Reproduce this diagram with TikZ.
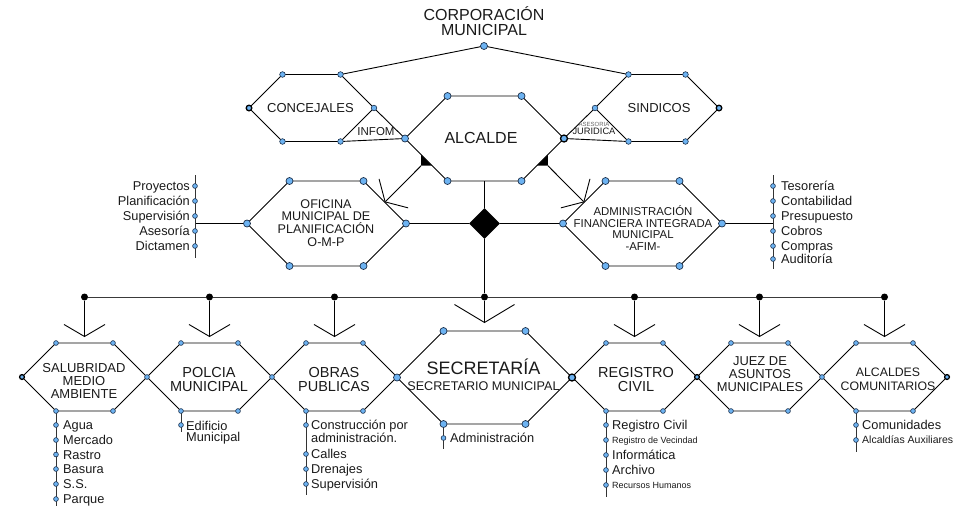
\documentclass[tikz,border=0pt]{standalone}
\usepackage{fontspec}
\setmainfont{Liberation Sans}
\usetikzlibrary{arrows.meta,calc,shapes.geometric}
\definecolor{dotblue}{HTML}{6DB3F2}
\definecolor{dotedge}{HTML}{1B2F4A}
\definecolor{txt}{HTML}{1A1A1A}
\definecolor{busgray}{HTML}{3A3A3A}
\newcommand\hexa[5]{%
  \path (#2,#3) coordinate (#1)
    ++(-#4,0) coordinate (#1-l)
    ++(#5,-#5) coordinate (#1-tl)
    ++({2*(#4-#5)},0) coordinate (#1-tr)
    ++(#5,#5) coordinate (#1-r)
    ++(-#5,#5) coordinate (#1-br)
    ++({-2*(#4-#5)},0) coordinate (#1-bl);
  \draw[hexline] (#1-l) -- (#1-tl) -- (#1-tr) -- (#1-r) -- (#1-br) -- (#1-bl) -- cycle;}
\newcommand\hexdots[3]{\foreach \v in {#3}{\node[#2] (#1-\v-d) at (#1-\v) {};}}
\tikzset{
  hexline/.style={draw=black, line width=0.9pt},
  listline/.style={draw=black!80, line width=0.9pt},
  dotS/.style={circle, fill=dotblue, draw=dotedge, line width=0.6pt, inner sep=0pt, minimum size=4.8pt},
  dotM/.style={dotS, minimum size=5.6pt},
  dotL/.style={dotS, minimum size=7pt, line width=0.7pt},
  dotK/.style={draw=black, line width=1.3pt},
  busdot/.style={circle, fill=black, inner sep=0pt, minimum size=7pt},
  barb/.style={-{Straight Barb[length=12pt,width=41pt,line width=0.9pt]}},
  bigbarb/.style={-{Straight Barb[length=18pt,width=60pt,line width=0.9pt]}},
  lbl/.style={inner sep=0pt, align=center, text=txt},
  item/.style={inner sep=0pt, text=txt, font=\fontsize{12.8}{12}\selectfont, text height=9.2pt, text depth=0pt},
  itemsm/.style={inner sep=0pt, text=txt, font=\fontsize{9}{9}\selectfont, text height=6.5pt, text depth=0pt},
}
\begin{document}
\begin{tikzpicture}[x=1pt,y=-1pt]
\useasboundingbox (0,0) rectangle (962,507);
% ---------- top hexagons
\hexa{conc}{311.5}{108}{62.5}{33.5}
\hexa{sind}{657}{108}{62}{33.5}
\hexa{alde}{484.5}{138.5}{79.5}{42.5}
\hexa{omp}{326.5}{223.5}{79.5}{42.5}
\hexa{afim}{642.5}{223.5}{79.5}{42.5}
\coordinate (corpd) at (484,46);
\draw[hexline] (corpd) -- (conc-tr);
\draw[hexline] (corpd) -- (sind-tl);
\draw[hexline] (conc-r) -- (alde-l);
\draw[hexline] (conc-br) -- (alde-l);
\draw[hexline] (sind-l) -- (alde-r);
\draw[hexline] (sind-bl) -- (alde-r);
% texts top
\node[lbl, font=\fontsize{16}{15}\selectfont] (corp) at (484,21) {CORPORACIÓN\\MUNICIPAL};
\node[lbl, font=\fontsize{13}{13}\selectfont] (conct) at (310.5,108) {CONCEJALES};
\node[lbl, font=\fontsize{13}{13}\selectfont] (sindt) at (659,108) {SINDICOS};
\node[lbl, font=\fontsize{16}{16}\selectfont] (aldet) at (481,137.5) {ALCALDE};
\node[lbl, font=\fontsize{11.5}{12}\selectfont] (infom) at (376,132) {INFOM};
\node[lbl, font=\fontsize{9.3}{8.5}\selectfont] (jur) at (594,128.5) {{\fontsize{6}{8.5}\selectfont\color{black!60}ASESORIA}\\JURIDICA};
\node[lbl, font=\fontsize{12.6}{12.7}\selectfont] (ompt) at (326,223) {OFICINA\\MUNICIPAL DE\\PLANIFICACIÓN\\O-M-P};
\node[lbl, font=\fontsize{11.4}{11.4}\selectfont] (afimt) at (643,228) {ADMINISTRACIÓN\\FINANCIERA INTEGRADA\\MUNICIPAL\\-AFIM-};
% diamond
\node[diamond, fill=black, inner sep=0pt, minimum size=31pt] (dia) at (484.5,223.5) {};
\coordinate (aldebm) at ($(alde-bl)!0.5!(alde-br)$);
\draw[hexline] (aldebm) -- (dia.north);
\draw[hexline] (omp-r) -- (dia.west);
\draw[hexline] (dia.east) -- (afim-l);
% composition arrows
\coordinate (la1) at ($(alde-l)!0.38!(alde-bl)$);
\coordinate (la2) at ($(alde-l)!0.64!(alde-bl)$);
\coordinate (la3) at (la1 |- la2);
\fill (la1) -- (la2) -- (la3) -- cycle;
\coordinate (ompin) at ($(omp-tr)!0.5!(omp-r)$);
\draw[hexline, barb] (la3) -- (ompin);
\coordinate (ra1) at ($(alde-r)!0.38!(alde-br)$);
\coordinate (ra2) at ($(alde-r)!0.64!(alde-br)$);
\coordinate (ra3) at (ra1 |- ra2);
\fill (ra1) -- (ra2) -- (ra3) -- cycle;
\coordinate (afimin) at ($(afim-tl)!0.5!(afim-l)$);
\draw[hexline, barb] (ra3) -- (afimin);
% left list
\coordinate (lltop) at (195,175); \coordinate (llbot) at (195,258); \coordinate (llmid) at (195,223.5);
\draw[hexline] (omp-l) -- (llmid);
\draw[listline] (lltop) -- (llbot);
\foreach \t/\y [count=\i] in {Proyectos/186,Planificación/201,Supervisión/216,Asesoría/231,Dictamen/246}{
  \node[dotS] (ld\i) at (195,\y) {};
  \node[item, anchor=east] (lt\i) at (190,\y) {\t};}
% right list
\coordinate (rltop) at (773,175); \coordinate (rlbot) at (773,269); \coordinate (rlmid) at (773,223.5);
\draw[hexline] (afim-r) -- (rlmid);
\draw[listline] (rltop) -- (rlbot);
\foreach \t/\y [count=\i] in {Tesorería/186,Contabilidad/201,Presupuesto/216,Cobros/231,Compras/246,Auditoría/259}{
  \node[dotS] (rd\i) at (773,\y) {};
  \node[item, anchor=west] (rt\i) at (781,\y) {\t};}
% dots top
\hexdots{conc}{dotM}{tl,tr,r,br,bl}
\node[dotM,dotK] (conc-l-d) at (conc-l) {};
\hexdots{sind}{dotM}{l,tl,tr,br,bl}
\node[dotM,dotK] (sind-r-d) at (sind-r) {};
\hexdots{alde}{dotL}{l,tl,tr,br,bl}
\node[dotL,dotK] (alde-r-d) at (alde-r) {};
\hexdots{omp}{dotL}{l,tl,tr,r,br,bl}
\hexdots{afim}{dotL}{l,tl,tr,r,br,bl}
\node[dotL] (corpdd) at (corpd) {};
% ---------- bottom hexagons
\hexa{sal}{84.5}{377}{62.5}{34}
\hexa{pol}{209.5}{377}{62.5}{34}
\hexa{obr}{334.5}{377}{62.5}{34}
\hexa{sec}{484.5}{377.5}{87.5}{46.5}
\hexa{reg}{634.5}{377}{62.5}{34}
\hexa{jue}{759.5}{377}{62.5}{34}
\hexa{acom}{884.5}{377}{62.5}{34}
\node[lbl, font=\fontsize{13}{13}\selectfont] (salt) at (84,381) {SALUBRIDAD\\MEDIO\\AMBIENTE};
\node[lbl, font=\fontsize{14.5}{14}\selectfont] (polt) at (209,379.5) {POLCIA\\MUNICIPAL};
\node[lbl, font=\fontsize{14.5}{14}\selectfont] (obrt) at (334,379.5) {OBRAS\\PUBLICAS};
\node[lbl, font=\fontsize{12.6}{16}\selectfont] (sect) at (483.5,374.3) {{\fontsize{18}{16}\selectfont SECRETARÍA}\\SECRETARIO MUNICIPAL};
\node[lbl, font=\fontsize{14.5}{14}\selectfont] (regt) at (636,379.5) {REGISTRO\\CIVIL};
\node[lbl, font=\fontsize{12.9}{13}\selectfont] (juet) at (760,374) {JUEZ DE\\ASUNTOS\\MUNICIPALES};
\node[lbl, font=\fontsize{12.3}{14}\selectfont] (acomt) at (888,379.5) {ALCALDES\\COMUNITARIOS};
% bus
\coordinate (busy) at (0,297);
\coordinate (tipy) at (0,337);
\coordinate (tipsec) at (0,323);
\foreach \n in {sal,pol,obr,sec,reg,jue,acom}{\node[busdot] (\n-b) at (\n |- busy) {};}
\draw[draw=busgray, line width=0.9pt] (sal-b) -- (pol-b) -- (obr-b) -- (sec-b) -- (reg-b) -- (jue-b) -- (acom-b);
\draw[hexline] (dia.south) -- (sec-b);
\foreach \n in {sal,pol,obr,reg,jue,acom}{\draw[draw=black, line width=1.4pt, barb] (\n-b) -- (\n |- tipy);}
\draw[hexline, bigbarb] (sec-b) -- (sec |- tipsec);
% bottom lists
\draw[listline] (sal-bl) -- (sal-bl |- 0,506);
\foreach \t/\y [count=\i] in {Agua/425,Mercado/440,Rastro/454.5,Basura/469,S.S./484,Parque/499}{
  \node[dotS] (sd\i) at (sal-bl |- 0,\y) {};
  \node[item, anchor=west] (st\i) at (63,\y) {\t};}
\draw[listline] (pol-bl) -- (pol-bl |- 0,432);
\node[dotS] (pd1) at (pol-bl |- 0,425) {};
\node[inner sep=0pt, text=txt, font=\fontsize{12.8}{11.5}\selectfont, align=left, anchor=north west] (pt1) at (186,421) {Edificio\\Municipal};
\draw[listline] (obr-bl) -- (obr-bl |- 0,495);
\node[dotS] (od1) at (obr-bl |- 0,425) {};
\node[inner sep=0pt, text=txt, font=\fontsize{12.8}{12}\selectfont, align=left, anchor=north west] (ot1) at (311,420) {Construcción por\\administración.};
\foreach \t/\y [count=\i] in {Calles/454,Drenajes/469,Supervisión/484}{
  \node[dotS] (od\i x) at (obr-bl |- 0,\y) {};
  \node[item, anchor=west] (ot\i x) at (311,\y) {\t};}
\draw[listline] (sec-bl) -- (sec-bl |- 0,449);
\node[dotS] (secd1) at (sec-bl |- 0,438) {};
\node[item, anchor=west] (sect1) at (450,438) {Administración};
\draw[listline] (reg-bl) -- (reg-bl |- 0,497);
\node[dotS] (rgd1) at (reg-bl |- 0,425) {};
\node[item, anchor=west] (rgt1) at (612,425) {Registro Civil};
\node[dotS] (rgd2) at (reg-bl |- 0,440) {};
\node[itemsm, anchor=west] (rgt2) at (612,440) {Registro de Vecindad};
\node[dotS] (rgd3) at (reg-bl |- 0,455) {};
\node[item, anchor=west] (rgt3) at (612,455) {Informática};
\node[dotS] (rgd4) at (reg-bl |- 0,470) {};
\node[item, anchor=west] (rgt4) at (612,470) {Archivo};
\node[dotS] (rgd5) at (reg-bl |- 0,485) {};
\node[itemsm, anchor=west] (rgt5) at (612,485) {Recursos Humanos};
\draw[listline] (acom-bl) -- (acom-bl |- 0,452);
\node[dotS] (acd1) at (acom-bl |- 0,425) {};
\node[item, anchor=west] (act1) at (862,425) {Comunidades};
\node[dotS] (acd2) at (acom-bl |- 0,440) {};
\node[inner sep=0pt, text=txt, font=\fontsize{10.5}{10}\selectfont, text height=7.5pt, text depth=0pt, anchor=west] (act2) at (862,440) {Alcaldías Auxiliares};
% bottom hex dots
\hexdots{sal}{dotS}{tl,tr,r,br,bl}
\node[dotS,dotK] (sal-l-d) at (sal-l) {};
\hexdots{pol}{dotS}{tl,tr,r,br,bl}
\hexdots{obr}{dotS}{tl,tr,br,bl}
\hexdots{sec}{dotL}{l,tl,tr,br,bl}
\node[dotL,dotK] (sec-r-d) at (sec-r) {};
\hexdots{reg}{dotS}{tl,tr,br,bl}
\hexdots{jue}{dotS}{tl,tr,r,br,bl}
\node[dotS,dotK] (jue-l-d) at (jue-l) {};
\hexdots{acom}{dotS}{tl,tr,br,bl}
\node[dotS,dotK] (acom-r-d) at (acom-r) {};
\end{tikzpicture}
\end{document}
